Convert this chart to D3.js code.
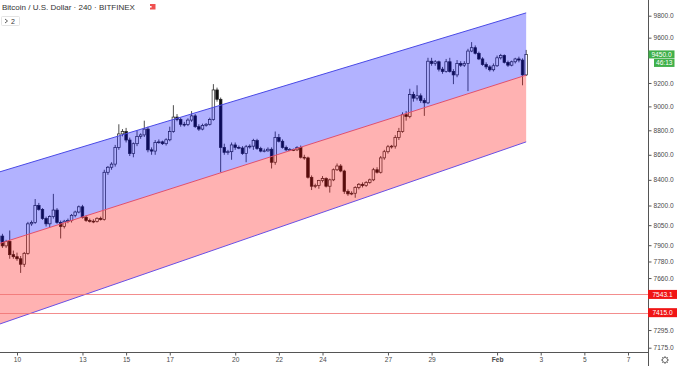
<!DOCTYPE html>
<html lang="en">
<head>
<meta charset="utf-8">
<title>Bitcoin / U.S. Dollar 240</title>
<script src="https://d3js.org/d3.v7.min.js"></script>
<style>
body{margin:0;background:#fff;}
svg{display:block;font-family:"Liberation Sans",Arial,sans-serif;}
.axis text{font-size:6.6px;fill:#4a4a4a;}
.axis line{stroke:#555;}
</style>
</head>
<body>
<div id="chart"></div>
<script>
// 4h candles, first bar opens 2020-01-09 04:00  [open, high, low, close]
var barStart = new Date(2020, 0, 9, 4);
var barHours = 4;
var bars = [
	[7930,7985,7915,7968],[7968,7985,7880,7895],[7895,7940,7880,7928],[7928,8010,7800,7830],
	[7830,7860,7800,7815],[7815,7845,7785,7800],[7800,7820,7697,7760],[7760,7850,7740,7840],
	[7840,8075,7830,8060],[8060,8085,8045,8070],[8070,8250,8060,8200],[8200,8220,8160,8170],
	[8170,8180,8090,8100],[8100,8115,8040,8060],[8060,8125,8035,8115],[8115,8290,8100,8165],
	[8165,8180,8060,8070],[8070,8085,7950,8040],[8040,8090,8025,8080],[8080,8100,8065,8085],
	[8085,8135,8070,8125],[8125,8160,8110,8150],[8150,8200,8140,8190],[8190,8205,8100,8110],
	[8110,8125,8075,8085],[8085,8100,8070,8080],[8080,8095,8065,8078],[8078,8110,8070,8102],
	[8102,8115,8085,8092],[8092,8480,8085,8460],[8460,8510,8440,8500],[8500,8540,8480,8525],
	[8525,8680,8505,8660],[8660,8850,8640,8770],[8770,8810,8750,8790],[8790,8820,8700,8720],
	[8720,8740,8590,8610],[8610,8700,8580,8690],[8690,8800,8670,8750],[8750,8775,8730,8762],
	[8762,8880,8745,8810],[8810,8830,8620,8640],[8640,8660,8600,8630],[8630,8720,8600,8700],
	[8700,8725,8690,8705],[8705,8715,8680,8690],[8690,8735,8675,8722],[8722,8830,8710,8790],
	[8790,9010,8780,8910],[8910,8935,8875,8890],[8890,8905,8830,8850],[8850,8870,8830,8848],
	[8848,8900,8835,8885],[8885,8960,8870,8920],[8920,8935,8820,8830],[8830,8850,8795,8810],
	[8810,8855,8800,8840],[8840,8860,8830,8850],[8850,8905,8840,8890],[8890,9190,8880,9140],
	[9140,9160,9040,9060],[9060,9075,8460,8660],[8660,8690,8600,8620],[8620,8640,8600,8625],
	[8625,8700,8560,8680],[8680,8700,8640,8660],[8660,8675,8645,8655],[8655,8670,8600,8610],
	[8610,8680,8540,8665],[8665,8685,8650,8670],[8670,8730,8640,8715],[8715,8730,8640,8650],
	[8650,8665,8620,8630],[8630,8650,8620,8632],[8632,8660,8625,8645],[8645,8660,8490,8540],
	[8540,8790,8520,8740],[8740,8770,8700,8710],[8710,8725,8650,8660],[8660,8675,8630,8640],
	[8640,8655,8630,8642],[8642,8650,8630,8640],[8640,8670,8630,8660],[8660,8675,8570,8580],
	[8580,8600,8560,8575],[8575,8585,8410,8420],[8420,8435,8320,8350],[8350,8370,8335,8355],
	[8355,8400,8330,8395],[8395,8430,8380,8410],[8410,8420,8340,8350],[8350,8410,8300,8400],
	[8400,8490,8390,8480],[8480,8530,8470,8510],[8510,8525,8460,8470],[8470,8480,8290,8310],
	[8310,8325,8275,8290],[8290,8310,8280,8295],[8295,8350,8260,8340],[8340,8375,8325,8365],
	[8365,8380,8340,8355],[8355,8390,8345,8380],[8380,8410,8370,8400],[8400,8495,8390,8480],
	[8480,8500,8450,8460],[8460,8590,8450,8575],[8575,8640,8560,8625],[8625,8680,8610,8665],
	[8665,8680,8650,8670],[8670,8760,8650,8740],[8740,8820,8720,8790],[8790,8950,8780,8930],
	[8930,8960,8880,8915],[8915,9150,8900,9100],[9100,9125,9040,9070],[9070,9180,9050,9090],
	[9090,9110,9030,9050],[9050,9070,8920,9030],[9030,9420,9020,9390],[9390,9420,9350,9370],
	[9370,9400,9350,9385],[9385,9395,9300,9320],[9320,9340,9280,9300],[9300,9410,9290,9385],
	[9385,9420,9290,9300],[9300,9320,9190,9270],[9270,9400,9250,9370],[9370,9390,9340,9355],
	[9355,9390,9340,9370],[9370,9500,9130,9480],[9480,9560,9470,9510],[9510,9530,9450,9460],
	[9460,9475,9400,9410],[9410,9425,9350,9360],[9360,9380,9320,9340],[9340,9355,9300,9315],
	[9315,9370,9300,9350],[9350,9440,9340,9420],[9420,9455,9405,9440],[9440,9450,9370,9380],
	[9380,9395,9340,9355],[9355,9395,9345,9385],[9385,9420,9370,9410],[9410,9430,9380,9400],
	[9400,9415,9180,9270],[9270,9490,9260,9450]
];

var priceTicks = [9800, 9600, 9200, 9000, 8800, 8600, 8400, 8200, 8050, 7900, 7780, 7660, 7295, 7175];
var dateTicks = [
	new Date(2020,0,10), new Date(2020,0,13), new Date(2020,0,15), new Date(2020,0,17),
	new Date(2020,0,20), new Date(2020,0,22), new Date(2020,0,24), new Date(2020,0,27),
	new Date(2020,0,29), new Date(2020,1,1), new Date(2020,1,3), new Date(2020,1,5), new Date(2020,1,7)
];
var dateLabels = ["10","13","15","17","20","22","24","27","29","Feb","3","5","7"];

// parallel channel anchors (start, end)
var channelTimes = [new Date(2020,0,9,4), new Date(2020,1,2,8)];
var channelTop = [8461, 9826];
var channelMid = [7911, 9268];
var channelBot = [7334, 8705];

var levels = [7543.1, 7415.0];
var lastPrice = 9450.0;
var countdown = "46:13";
var title = "Bitcoin / U.S. Dollar · 240 · BITFINEX";

(function(){
	var W = 680, H = 366, plotW = 648, plotH = 352;
	var svg = d3.select("#chart").append("svg").attr("width", W).attr("height", H);
	svg.append("rect").attr("width", W).attr("height", H).attr("fill", "#fff");

	var x = d3.scaleTime().domain([new Date(2020,0,10), new Date(2020,1,7)]).range([17, 628]);
	var y = d3.scaleLog().domain([7175, 9800]).range([347.7, 15.7]);

	svg.append("clipPath").attr("id", "plot")
		.append("rect").attr("width", plotW).attr("height", plotH);
	var plot = svg.append("g").attr("clip-path", "url(#plot)");

	// candles
	var bw = 2.6;
	var bar_g = plot.append("g");
	bars.forEach(function(b, i){
		var t = new Date(barStart.getTime() + i * barHours * 3600e3);
		var cx = x(t), up = b[3] >= b[0];
		bar_g.append("line")
			.attr("x1", cx).attr("x2", cx)
			.attr("y1", y(b[1])).attr("y2", y(b[2]))
			.attr("stroke", "#222").attr("stroke-width", 0.8);
		var top = y(Math.max(b[0], b[3])), bot = y(Math.min(b[0], b[3]));
		bar_g.append("rect")
			.attr("x", cx - bw / 2).attr("y", top)
			.attr("width", bw).attr("height", Math.max(bot - top, 0.8))
			.attr("fill", up ? "#fff" : "#111")
			.attr("stroke", "#222").attr("stroke-width", 0.7);
	});

	// channel
	function pts(a, b){
		return [[x(channelTimes[0]), y(a[0])], [x(channelTimes[1]), y(a[1])],
			[x(channelTimes[1]), y(b[1])], [x(channelTimes[0]), y(b[0])]];
	}
	plot.append("polygon").attr("points", pts(channelTop, channelMid).join(" "))
		.attr("fill", "rgba(0,0,255,0.3)");
	plot.append("polygon").attr("points", pts(channelMid, channelBot).join(" "))
		.attr("fill", "rgba(255,0,0,0.3)");
	[[channelTop, "#4a4ae6"], [channelMid, "#e0506e"], [channelBot, "#6a4fe4"]].forEach(function(l){
		plot.append("line")
			.attr("x1", x(channelTimes[0])).attr("y1", y(l[0][0]))
			.attr("x2", x(channelTimes[1])).attr("y2", y(l[0][1]))
			.attr("stroke", l[1]).attr("stroke-width", 1);
	});

	// horizontal levels
	levels.forEach(function(v){
		plot.append("line").attr("x1", 0).attr("x2", plotW)
			.attr("y1", Math.round(y(v)) + 0.5).attr("y2", Math.round(y(v)) + 0.5)
			.attr("stroke", "#f07070").attr("stroke-width", 0.8);
	});

	// axes
	var yAxis = d3.axisRight(y).tickValues(priceTicks).tickSize(3).tickPadding(2)
		.tickFormat(d3.format(".1f"));
	var ya = svg.append("g").attr("class", "axis").attr("transform", "translate(" + (plotW + 0.5) + ",0)").call(yAxis);
	ya.select(".domain").remove();
	svg.append("line").attr("x1", plotW + 0.5).attr("x2", plotW + 0.5).attr("y1", 0).attr("y2", H)
		.attr("stroke", "#555").attr("stroke-width", 1);

	var xAxis = d3.axisBottom(x).tickValues(dateTicks).tickSize(3).tickPadding(2)
		.tickFormat(function(d, i){ return dateLabels[i]; });
	var xa = svg.append("g").attr("class", "axis").attr("transform", "translate(0," + (plotH + 0.5) + ")").call(xAxis);
	xa.select(".domain").remove();
	xa.selectAll("text").style("font-weight", function(d, i){ return dateLabels[i] === "Feb" ? "bold" : null; });
	svg.append("line").attr("x1", 0).attr("x2", plotW).attr("y1", plotH + 0.5).attr("y2", plotH + 0.5)
		.attr("stroke", "#555").attr("stroke-width", 1);

	// price labels
	function tag(yc, h, x0, w, fill, txt){
		svg.append("rect").attr("x", x0).attr("y", yc - h / 2).attr("width", w).attr("height", h).attr("fill", fill);
		svg.append("text").attr("x", x0 + w / 2).attr("y", yc).attr("dy", "0.35em")
			.attr("text-anchor", "middle").attr("fill", "#fff")
			.style("font-size", "6.6px").text(txt);
	}
	levels.forEach(function(v){ tag(y(v), 9, plotW, 29, "#f01515", d3.format(".1f")(v)); });
	var ly = y(lastPrice);
	tag(ly, 8, plotW + 0.5, 26, "#40b04a", d3.format(".1f")(lastPrice));
	tag(ly + 8.5, 8, plotW + 6, 20.5, "#40b04a", countdown);

	// gear
	var gear = svg.append("g").attr("transform", "translate(665,360)")
		.attr("stroke", "#555").attr("fill", "none").attr("stroke-width", 0.8);
	gear.append("circle").attr("r", 2.6);
	d3.range(8).forEach(function(k){
		var a = k * Math.PI / 4;
		gear.append("line").attr("x1", Math.cos(a) * 2.6).attr("y1", Math.sin(a) * 2.6)
			.attr("x2", Math.cos(a) * 4).attr("y2", Math.sin(a) * 4);
	});

	// header
	svg.append("text").attr("x", 2).attr("y", 9.5).attr("fill", "#333")
		.style("font-size", "8px").text(title);
	svg.append("rect").attr("x", 150).attr("y", 4).attr("width", 5.5).attr("height", 5.5).attr("fill", "#f05050");
	svg.append("rect").attr("x", 150).attr("y", 6).attr("width", 1.6).attr("height", 1.6).attr("fill", "#fff");
	svg.append("rect").attr("x", 1.5).attr("y", 16.5).attr("width", 18).attr("height", 9).attr("rx", 1)
		.attr("fill", "#fff").attr("stroke", "#ddd").attr("stroke-width", 0.8);
	svg.append("path").attr("d", "M5,19 L7.5,21 L5,23").attr("fill", "none").attr("stroke", "#333").attr("stroke-width", 0.8);
	svg.append("text").attr("x", 11).attr("y", 23.5).attr("fill", "#333").style("font-size", "7px").text("2");
})();
</script>
</body>
</html>
